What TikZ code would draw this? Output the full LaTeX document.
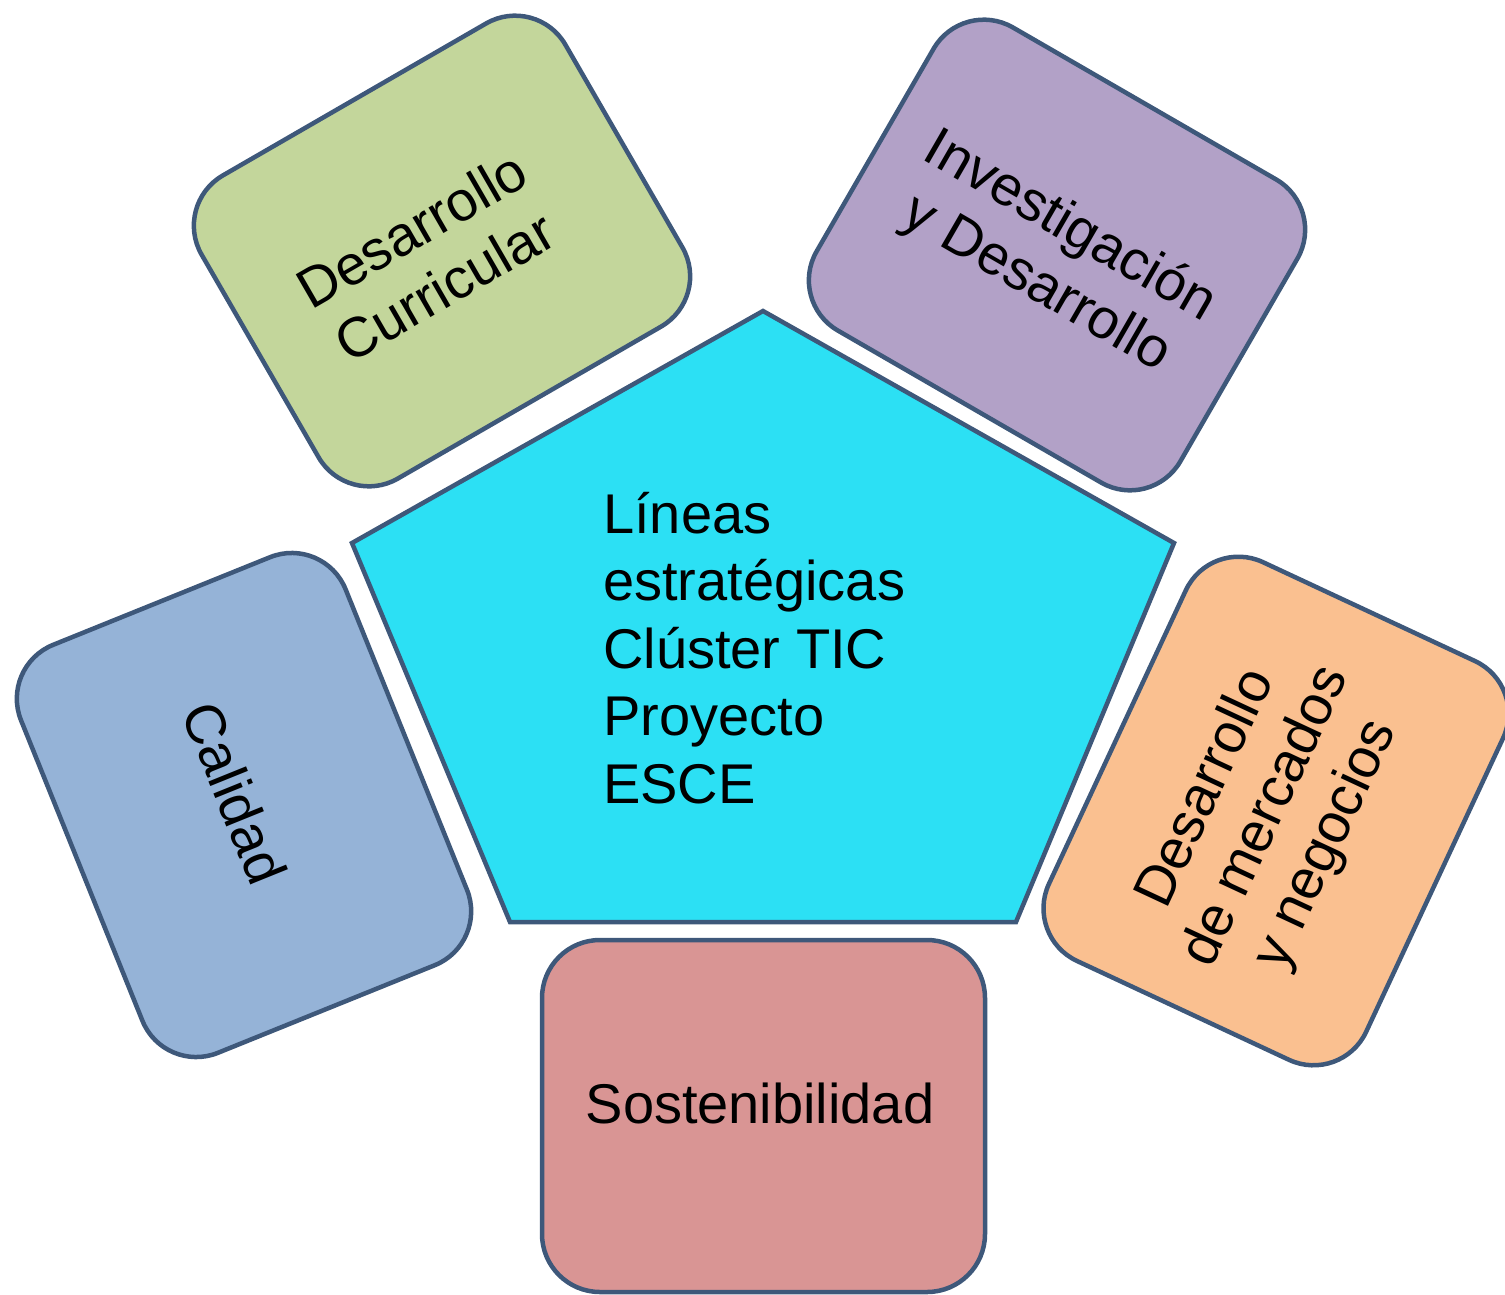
\documentclass[tikz,border=0pt]{standalone}
\usepackage{fontspec}
\setmainfont{Liberation Sans}
\definecolor{edgeblue}{RGB}{62,88,122}
\definecolor{cyanfill}{RGB}{44,224,244}
\definecolor{greenfill}{RGB}{195,214,155}
\definecolor{purplefill}{RGB}{178,161,199}
\definecolor{bluefill}{RGB}{149,179,215}
\definecolor{orangefill}{RGB}{250,192,144}
\definecolor{pinkfill}{RGB}{217,149,148}
\tikzset{
  boxshape/.style={draw=edgeblue, line width=4.5pt, rounded corners=58pt,
    rectangle, minimum width=#1, minimum height=350pt, inner sep=0pt},
  boxshape/.default=440pt,
  label/.style={font=\fontsize{56}{66}\selectfont, align=center, inner sep=0pt, text=black},
}
\begin{document}
\begin{tikzpicture}[x=1pt, y=-1pt]
\useasboundingbox (0,0) rectangle (1505,1294);
% central pentagon
\coordinate (pT) at (763,311);
\coordinate (pR) at (1174,543);
\coordinate (pBR) at (1016,922);
\coordinate (pBL) at (510,922);
\coordinate (pL) at (352,543);
\draw[draw=edgeblue, fill=cyanfill, line width=4.5pt, line join=miter]
  (pT) -- (pR) -- (pBR) -- (pBL) -- (pL) -- cycle;
\node[label, font=\fontsize{56}{67.5}\selectfont, align=left, anchor=base west] (center) at (603,803)
  {Líneas\\estratégicas\\Clúster TIC\\Proyecto\\ESCE};
% surrounding boxes
\node[boxshape=443pt, fill=pinkfill, minimum height=352pt] (sost) at (763.5,1116) {};
\node[label, anchor=base] (sostt) at (760,1123) {Sostenibilidad};
\node[boxshape=440pt, fill=bluefill, rotate=-68] (cal) at (244,805) {};
\node[label, rotate=-68] (calt) at (235,793) {Calidad};
\node[boxshape=420pt, fill=greenfill, rotate=30] (cur) at (442,251) {};
\node[label, rotate=30] (curt) at (428,258) {Desarrollo\\Curricular};
\node[boxshape=420pt, fill=purplefill, rotate=-30] (inv) at (1057,255) {};
\node[label, rotate=-30] (invt) at (1053,256) {Investigación\\y Desarrollo};
\node[boxshape=440pt, fill=orangefill, rotate=65] (mer) at (1276,811) {};
\node[label, rotate=65] (mert) at (1267,817) {Desarrollo\\de mercados\\y negocios};
\end{tikzpicture}
\end{document}
